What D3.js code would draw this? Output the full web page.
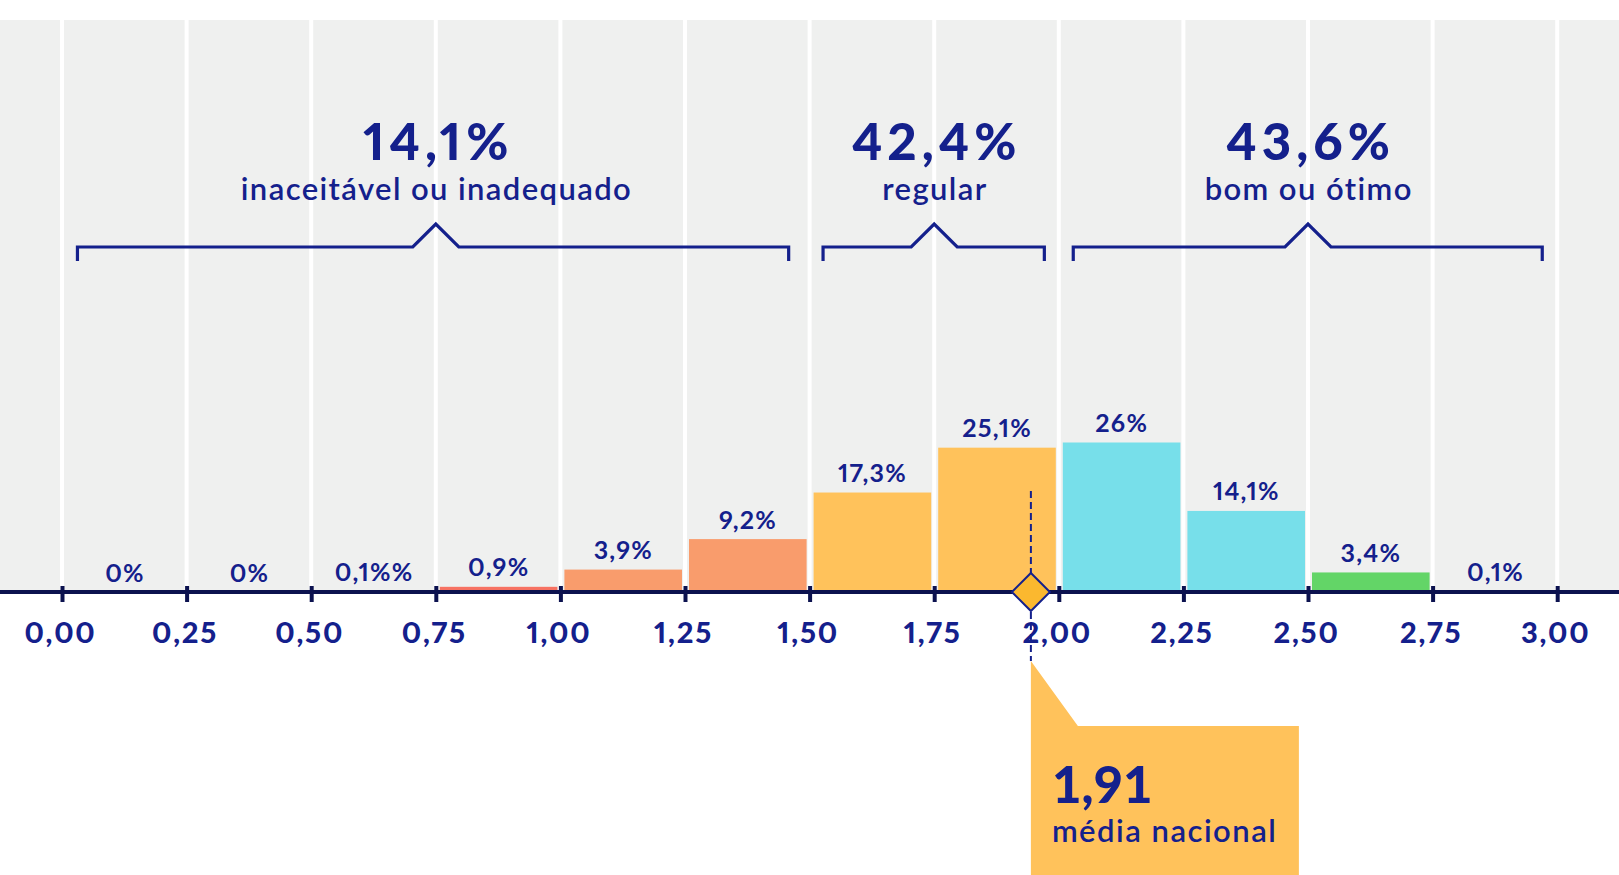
<!DOCTYPE html>
<html>
<head>
<meta charset="utf-8">
<script src="https://cdn.jsdelivr.net/npm/d3@7"></script>
<style>
  html, body { margin: 0; padding: 0; background: #ffffff; }
  svg { display: block; }
  text { font-family: Lato, "Open Sans", sans-serif; }
  .pnum { font-variant-numeric: proportional-nums; font-feature-settings: "pnum" 1; }
</style>
</head>
<body>
<svg id="chart" width="1619" height="875"></svg>
<script>
// ---- data ----
const binStarts = [0, 0.25, 0.5, 0.75, 1.0, 1.25, 1.5, 1.75, 2.0, 2.25, 2.5, 2.75];
const binWidth = 0.25;
const values = [0, 0, 0.1, 0.9, 3.9, 9.2, 17.3, 25.1, 26, 14.1, 3.4, 0.1];
const valueLabels = ["0%", "0%", "0,1%%", "0,9%", "3,9%", "9,2%", "17,3%", "25,1%", "26%", "14,1%", "3,4%", "0,1%"];
const binGroups = ["inad", "inad", "inad", "inad2", "inad3", "inad3", "reg", "reg", "bom", "bom", "oti", "oti"];
const tickValues = [0, 0.25, 0.5, 0.75, 1.0, 1.25, 1.5, 1.75, 2.0, 2.25, 2.5, 2.75, 3.0];
const groupTotals = ["14,1%", "42,4%", "43,6%"];
const groupNames = ["inaceitável ou inadequado", "regular", "bom ou ótimo"];
const groupStart = [0.031, 1.527, 2.029];
const groupEnd = [1.458, 1.971, 2.970];
const groupPeak = [0.75, 1.75, 2.5];
const meanLabel = "1,91";
const meanCaption = "média nacional";
const meanMarkerAt = 1.944;

// ---- styles ----
const navy = "#14208c";
const axisNavy = "#0c124f";
const colorMap = { inad: "#f0645a", inad2: "#f77262", inad3: "#f99c6c", reg: "#ffc25b", bom: "#77dfea", oti: "#63d567" };

const W = 1619, H = 875;
const svg = d3.select("#chart");
const x = d3.scaleLinear().domain([0, 3]).range([62, 1557.2]);
const y = d3.scaleLinear().domain([0, 100]).range([592, 592 - 575]);
const bgTop = 20;
const baseY = y(0);

// background
svg.append("rect").attr("x", 0).attr("y", bgTop).attr("width", W).attr("height", baseY - bgTop).attr("fill", "#eff0ef");

// gridlines
svg.append("g").selectAll("line").data(tickValues).join("line")
  .attr("x1", d => x(d)).attr("x2", d => x(d))
  .attr("y1", bgTop).attr("y2", baseY)
  .attr("stroke", "#ffffff").attr("stroke-width", 4);

// bars
svg.append("g").selectAll("rect").data(values).join("rect")
  .attr("x", (d, i) => x(binStarts[i]) + 4)
  .attr("width", (d, i) => x(binStarts[i] + binWidth) - x(binStarts[i]) - 7)
  .attr("y", d => y(d))
  .attr("height", d => baseY - y(d))
  .attr("fill", (d, i) => colorMap[binGroups[i]]);

// value labels
svg.append("g").selectAll("text").data(values).join("text")
  .attr("class", "pnum")
  .attr("x", (d, i) => x(binStarts[i] + binWidth / 2) + 0.6)
  .attr("y", d => y(d) - 10.5)
  .attr("text-anchor", "middle")
  .attr("fill", navy)
  .attr("font-size", 25)
  .attr("font-weight", 700)
  .attr("letter-spacing", 1.2)
  .text((d, i) => valueLabels[i]);

// brackets
const bracketG = svg.append("g");
groupTotals.forEach((t, i) => {
  const x0 = x(groupStart[i]), x1 = x(groupEnd[i]), xp = x(groupPeak[i]);
  const hy = 247, py = 224, hw = 23, ty = 261;
  const path = d3.path();
  path.moveTo(x0, ty); path.lineTo(x0, hy); path.lineTo(xp - hw, hy);
  path.lineTo(xp, py); path.lineTo(xp + hw, hy); path.lineTo(x1, hy); path.lineTo(x1, ty);
  bracketG.append("path").attr("d", path.toString()).attr("fill", "none")
    .attr("stroke", navy).attr("stroke-width", 3.2);
  bracketG.append("text").attr("class", "pnum").attr("x", xp + 2.5).attr("y", 160).attr("text-anchor", "middle")
    .attr("fill", navy).attr("font-size", 51).attr("font-weight", 900).attr("letter-spacing", 5).text(t);
  bracketG.append("text").attr("x", xp + 0.7).attr("y", 200).attr("text-anchor", "middle")
    .attr("fill", navy).attr("font-size", 31).attr("font-weight", 600).attr("letter-spacing", 1.4).text(groupNames[i]);
});

// callout
const xm = x(meanMarkerAt);
const calloutPts = [[xm, 661], [xm + 47, 726], [xm + 268, 726], [xm + 268, H], [xm, H]];
svg.append("polygon").attr("points", calloutPts.map(p => p.join(",")).join(" ")).attr("fill", "#ffc25b");

// dashed mean line
svg.append("line").attr("x1", xm).attr("x2", xm).attr("y1", 491).attr("y2", 661)
  .attr("stroke", navy).attr("stroke-width", 2).attr("stroke-dasharray", "7,4");

// axis
const pt = d3.formatLocale({ decimal: ",", thousands: ".", grouping: [3], currency: ["R$", ""] });
const fmt = pt.format(".2f");
svg.append("line").attr("x1", 0).attr("x2", W).attr("y1", baseY).attr("y2", baseY)
  .attr("stroke", axisNavy).attr("stroke-width", 4);
const axis = d3.axisBottom(x).tickValues(tickValues).tickFormat(fmt).tickSize(10).tickPadding(0);
const ag = svg.append("g").attr("transform", `translate(0,${baseY})`).call(axis);
ag.select(".domain").remove();
ag.selectAll(".tick line").attr("y1", -6).attr("y2", 10).attr("stroke", axisNavy).attr("stroke-width", 4);
ag.selectAll(".tick text").attr("y", 51).attr("dy", null).attr("x", -2)
  .attr("class", "pnum")
  .attr("fill", navy).attr("font-size", 29).attr("font-weight", 900)
  .attr("letter-spacing", 1.8)
  .style("font-family", "Lato, sans-serif");

// diamond marker
const dr = 19;
svg.append("path")
  .attr("d", `M${xm},${baseY - dr} L${xm + dr},${baseY} L${xm},${baseY + dr} L${xm - dr},${baseY} Z`)
  .attr("fill", "#fbb82f").attr("stroke", navy).attr("stroke-width", 2);

// callout text
svg.append("text").attr("x", xm + 21).attr("y", 803).attr("fill", navy)
  .attr("font-size", 51).attr("font-weight", 900).text(meanLabel);
svg.append("text").attr("x", xm + 21).attr("y", 842).attr("fill", navy)
  .attr("font-size", 31).attr("font-weight", 600).attr("letter-spacing", 1.5).text(meanCaption);
</script>
</body>
</html>
